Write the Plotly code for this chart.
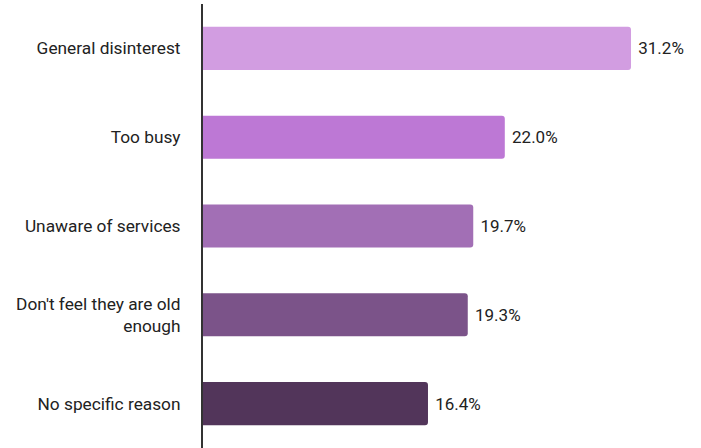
import plotly.graph_objects as go

categories = ["General disinterest", "Too busy", "Unaware of services",
              "Don't feel they are old<br>enough", "No specific reason"]
values = [31.2, 22.0, 19.7, 19.3, 16.4]
colors = ["#D29DE1", "#BD78D5", "#A26FB5", "#7B5389", "#52355A"]

fig = go.Figure(go.Bar(
    y=categories, x=values, orientation="h",
    marker=dict(color=colors, line=dict(width=0)),
    text=[f"\u00a0{v:.1f}%" for v in values],
    textposition="outside",
    textfont=dict(family="Roboto", size=17, color="#222222"),
    cliponaxis=False,
    hoverinfo="skip",
))
fig.update_layout(
    width=701, height=448,
    margin=dict(l=203, r=11, t=4, b=0, autoexpand=False),
    paper_bgcolor="white", plot_bgcolor="white",
    bargap=0.515, barcornerradius=3,
    showlegend=False,
    font=dict(family="Roboto", size=17, color="#222222"),
    xaxis=dict(range=[0, 35.5], visible=False, showgrid=False, zeroline=False, automargin=False),
    yaxis=dict(autorange="reversed", showline=True, linecolor="#333333", linewidth=2,
               showgrid=False, ticks="", ticklabelstandoff=17, automargin=False,
               tickfont=dict(family="Roboto", size=17.3, color="#222222")),
)
fig.write_html("out.html", config={"displayModeBar": False},
               post_script="document.body.style.margin='0';document.body.style.overflow='hidden';")
